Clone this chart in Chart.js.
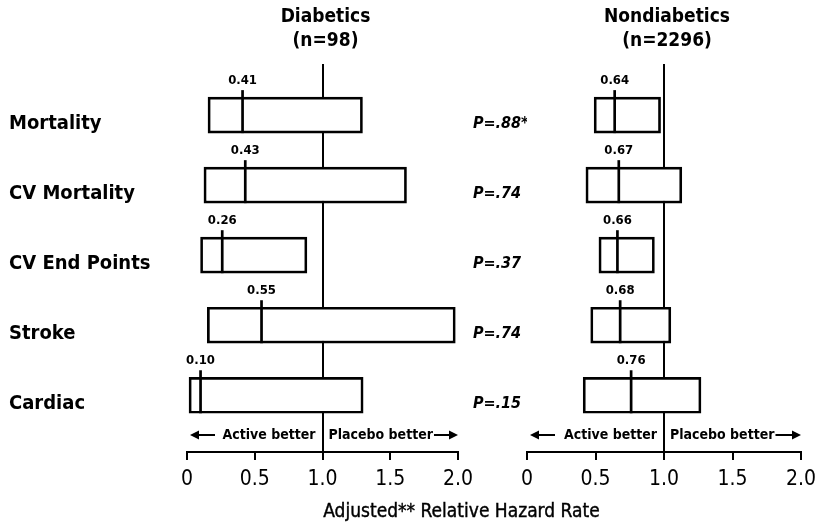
<!DOCTYPE html>
<html>
<head>
<meta charset="utf-8">
<script src="https://cdn.jsdelivr.net/npm/chart.js@4.4.0/dist/chart.umd.min.js"></script>
<style>
  html, body { margin: 0; padding: 0; background: #fff; }
  #wrap { position: relative; width: 817px; height: 528px; overflow: hidden; background: #fff; }
  #wrap canvas { position: absolute; top: 0; }
  #diab { left: 0; }
  #nondiab { left: 468px; }
  #xtitle {
    position: absolute; left: 300px; width: 323px; top: 499px;
    text-align: center; color: #000; line-height: 24px;
    font: 19px "DejaVu Sans Condensed", "DejaVu Sans", sans-serif;
    -webkit-text-stroke: 0.4px #000;
  }
</style>
</head>
<body>
<div id="wrap">
  <canvas id="diab" width="474" height="528"></canvas>
  <canvas id="nondiab" width="349" height="528"></canvas>
  <div id="xtitle">Adjusted** Relative Hazard Rate</div>
</div>
<script>
const FONT = '"DejaVu Sans Condensed", "DejaVu Sans", sans-serif';

// End points (rows, top to bottom)
const categories = ['Mortality', 'CV Mortality', 'CV End Points', 'Stroke', 'Cardiac'];

// Diabetics (n=98): point estimate and confidence limits
const diabeticEstimate = [0.41, 0.43, 0.26, 0.55, 0.10];
const diabeticLower    = [0.155, 0.125, 0.10, 0.15, 0.015];
const diabeticUpper    = [1.295, 1.62, 0.885, 1.98, 1.30];

// Nondiabetics (n=2296)
const nondiabeticEstimate = [0.64, 0.67, 0.66, 0.68, 0.76];
const nondiabeticLower    = [0.49, 0.43, 0.525, 0.465, 0.41];
const nondiabeticUpper    = [0.975, 1.13, 0.93, 1.05, 1.27];

// Interaction P values
const pValueLabels = ['P=.88*', 'P=.74', 'P=.37', 'P=.74', 'P=.15'];

// Hazard-rate axis
const xTickValues = [0, 0.5, 1, 1.5, 2];
const xTickLabels = ['0', '0.5', '1.0', '1.5', '2.0'];

Chart.defaults.color = '#000';

// Vertical mark at the point estimate, with its value printed above
const estimatePlugin = {
  id: 'estimateMarks',
  afterDatasetsDraw(chart) {
    const ds = chart.data.datasets[0];
    const meta = chart.getDatasetMeta(0);
    const xs = chart.scales.x;
    const ctx = chart.ctx;
    ctx.save();
    ctx.strokeStyle = '#000';
    ctx.fillStyle = '#000';
    ctx.lineWidth = 2.7;
    ctx.font = 'bold 13px ' + FONT;
    ctx.textAlign = 'center';
    ctx.textBaseline = 'middle';
    meta.data.forEach((bar, i) => {
      const x = xs.getPixelForValue(ds.estimates[i]);
      const top = bar.y - bar.height / 2;
      const bottom = bar.y + bar.height / 2;
      ctx.beginPath();
      ctx.moveTo(x, top - 7);
      ctx.lineTo(x, bottom);
      ctx.stroke();
      ctx.fillText(ds.estimates[i].toFixed(2), x, top - 17);
    });
    ctx.restore();
  }
};

// Two-line group heading centred over the 1.0 line
const headerPlugin = {
  id: 'panelHeader',
  afterDraw(chart, args, opts) {
    const ctx = chart.ctx;
    const x = chart.scales.x.getPixelForValue(1) + 3;
    ctx.save();
    ctx.fillStyle = '#000';
    ctx.font = 'bold 19px ' + FONT;
    ctx.textAlign = 'center';
    ctx.textBaseline = 'middle';
    ctx.fillText(opts.lines[0], x, 17);
    ctx.fillText(opts.lines[1], x, 41);
    ctx.restore();
  }
};

function drawArrow(ctx, from, to, y) {
  const dir = Math.sign(to - from);
  ctx.beginPath();
  ctx.moveTo(from, y);
  ctx.lineTo(to - dir * 6, y);
  ctx.stroke();
  ctx.beginPath();
  ctx.moveTo(to, y);
  ctx.lineTo(to - dir * 9, y - 4.5);
  ctx.lineTo(to - dir * 9, y + 4.5);
  ctx.closePath();
  ctx.fill();
}

// "Active better | Placebo better" note just above the axis
const directionPlugin = {
  id: 'directionNote',
  afterDraw(chart) {
    const xs = chart.scales.x;
    const ctx = chart.ctx;
    const x0 = xs.getPixelForValue(0);
    const x1 = xs.getPixelForValue(1);
    const x2 = xs.getPixelForValue(2);
    const y = chart.chartArea.bottom - 17;
    ctx.save();
    ctx.fillStyle = '#000';
    ctx.strokeStyle = '#000';
    ctx.lineWidth = 2;
    ctx.font = 'bold 14px ' + FONT;
    ctx.textBaseline = 'middle';
    ctx.textAlign = 'right';
    ctx.fillText('Active better', x1 - 7, y);
    ctx.textAlign = 'left';
    ctx.fillText('Placebo better', x1 + 6, y);
    const w = ctx.measureText('Placebo better').width;
    drawArrow(ctx, x0 + 28, x0 + 3, y);
    drawArrow(ctx, x1 + 6 + w + 1, x2, y);
    ctx.restore();
  }
};

function makePanel(canvasId, est, lo, hi, header, yLabels, yFont, yAxisWidth, padLeft) {
  return new Chart(document.getElementById(canvasId), {
    type: 'bar',
    data: {
      datasets: [{
        data: categories.map((_, i) => ({ x: [lo[i], hi[i]], y: i })),
        estimates: est,
        backgroundColor: '#fff',
        borderColor: '#000',
        borderWidth: 2.7,
        borderSkipped: false,
        barThickness: 36
      }]
    },
    options: {
      indexAxis: 'y',
      responsive: false,
      animation: false,
      devicePixelRatio: 1,
      layout: { padding: { left: padLeft, right: 16, top: 64, bottom: 0 } },
      plugins: {
        legend: { display: false },
        tooltip: { enabled: false },
        panelHeader: { lines: header }
      },
      scales: {
        x: {
          type: 'linear',
          min: 0,
          max: 2,
          afterBuildTicks: s => { s.ticks = xTickValues.map(v => ({ value: v })); },
          afterFit: s => { s.height = 76; s.paddingLeft = 0; s.paddingRight = 0; },
          ticks: {
            callback: (v, i) => xTickLabels[i],
            color: '#000',
            font: { family: FONT, size: 21 },
            padding: 7,
            maxRotation: 0,
            autoSkip: false
          },
          grid: {
            color: c => (c.tick && c.tick.value === 1) ? '#000' : 'rgba(0,0,0,0)',
            lineWidth: 2,
            tickColor: '#000',
            tickWidth: 2,
            tickLength: 8
          },
          border: { display: true, color: '#000', width: 2 }
        },
        y: {
          type: 'linear',
          reverse: true,
          offset: false,
          min: -0.73,
          max: 4.81,
          afterBuildTicks: s => { s.ticks = categories.map((_, i) => ({ value: i })); },
          afterFit: s => { s.width = yAxisWidth; s.paddingTop = 0; s.paddingBottom = 0; },
          ticks: {
            callback: v => yLabels[v],
            crossAlign: 'far',
            labelOffset: 9,
            color: '#000',
            font: yFont,
            padding: 0,
            autoSkip: false
          },
          grid: { display: false, offset: false },
          border: { display: false }
        }
      }
    },
    plugins: [estimatePlugin, headerPlugin, directionPlugin]
  });
}

makePanel('diab', diabeticEstimate, diabeticLower, diabeticUpper,
  ['Diabetics', '(n=98)'], categories,
  { family: FONT, size: 20, weight: 'bold' }, 178, 9);

makePanel('nondiab', nondiabeticEstimate, nondiabeticLower, nondiabeticUpper,
  ['Nondiabetics', '(n=2296)'], pValueLabels,
  { family: FONT, size: 16, weight: 'bold', style: 'italic' }, 54, 5);
</script>
</body>
</html>
